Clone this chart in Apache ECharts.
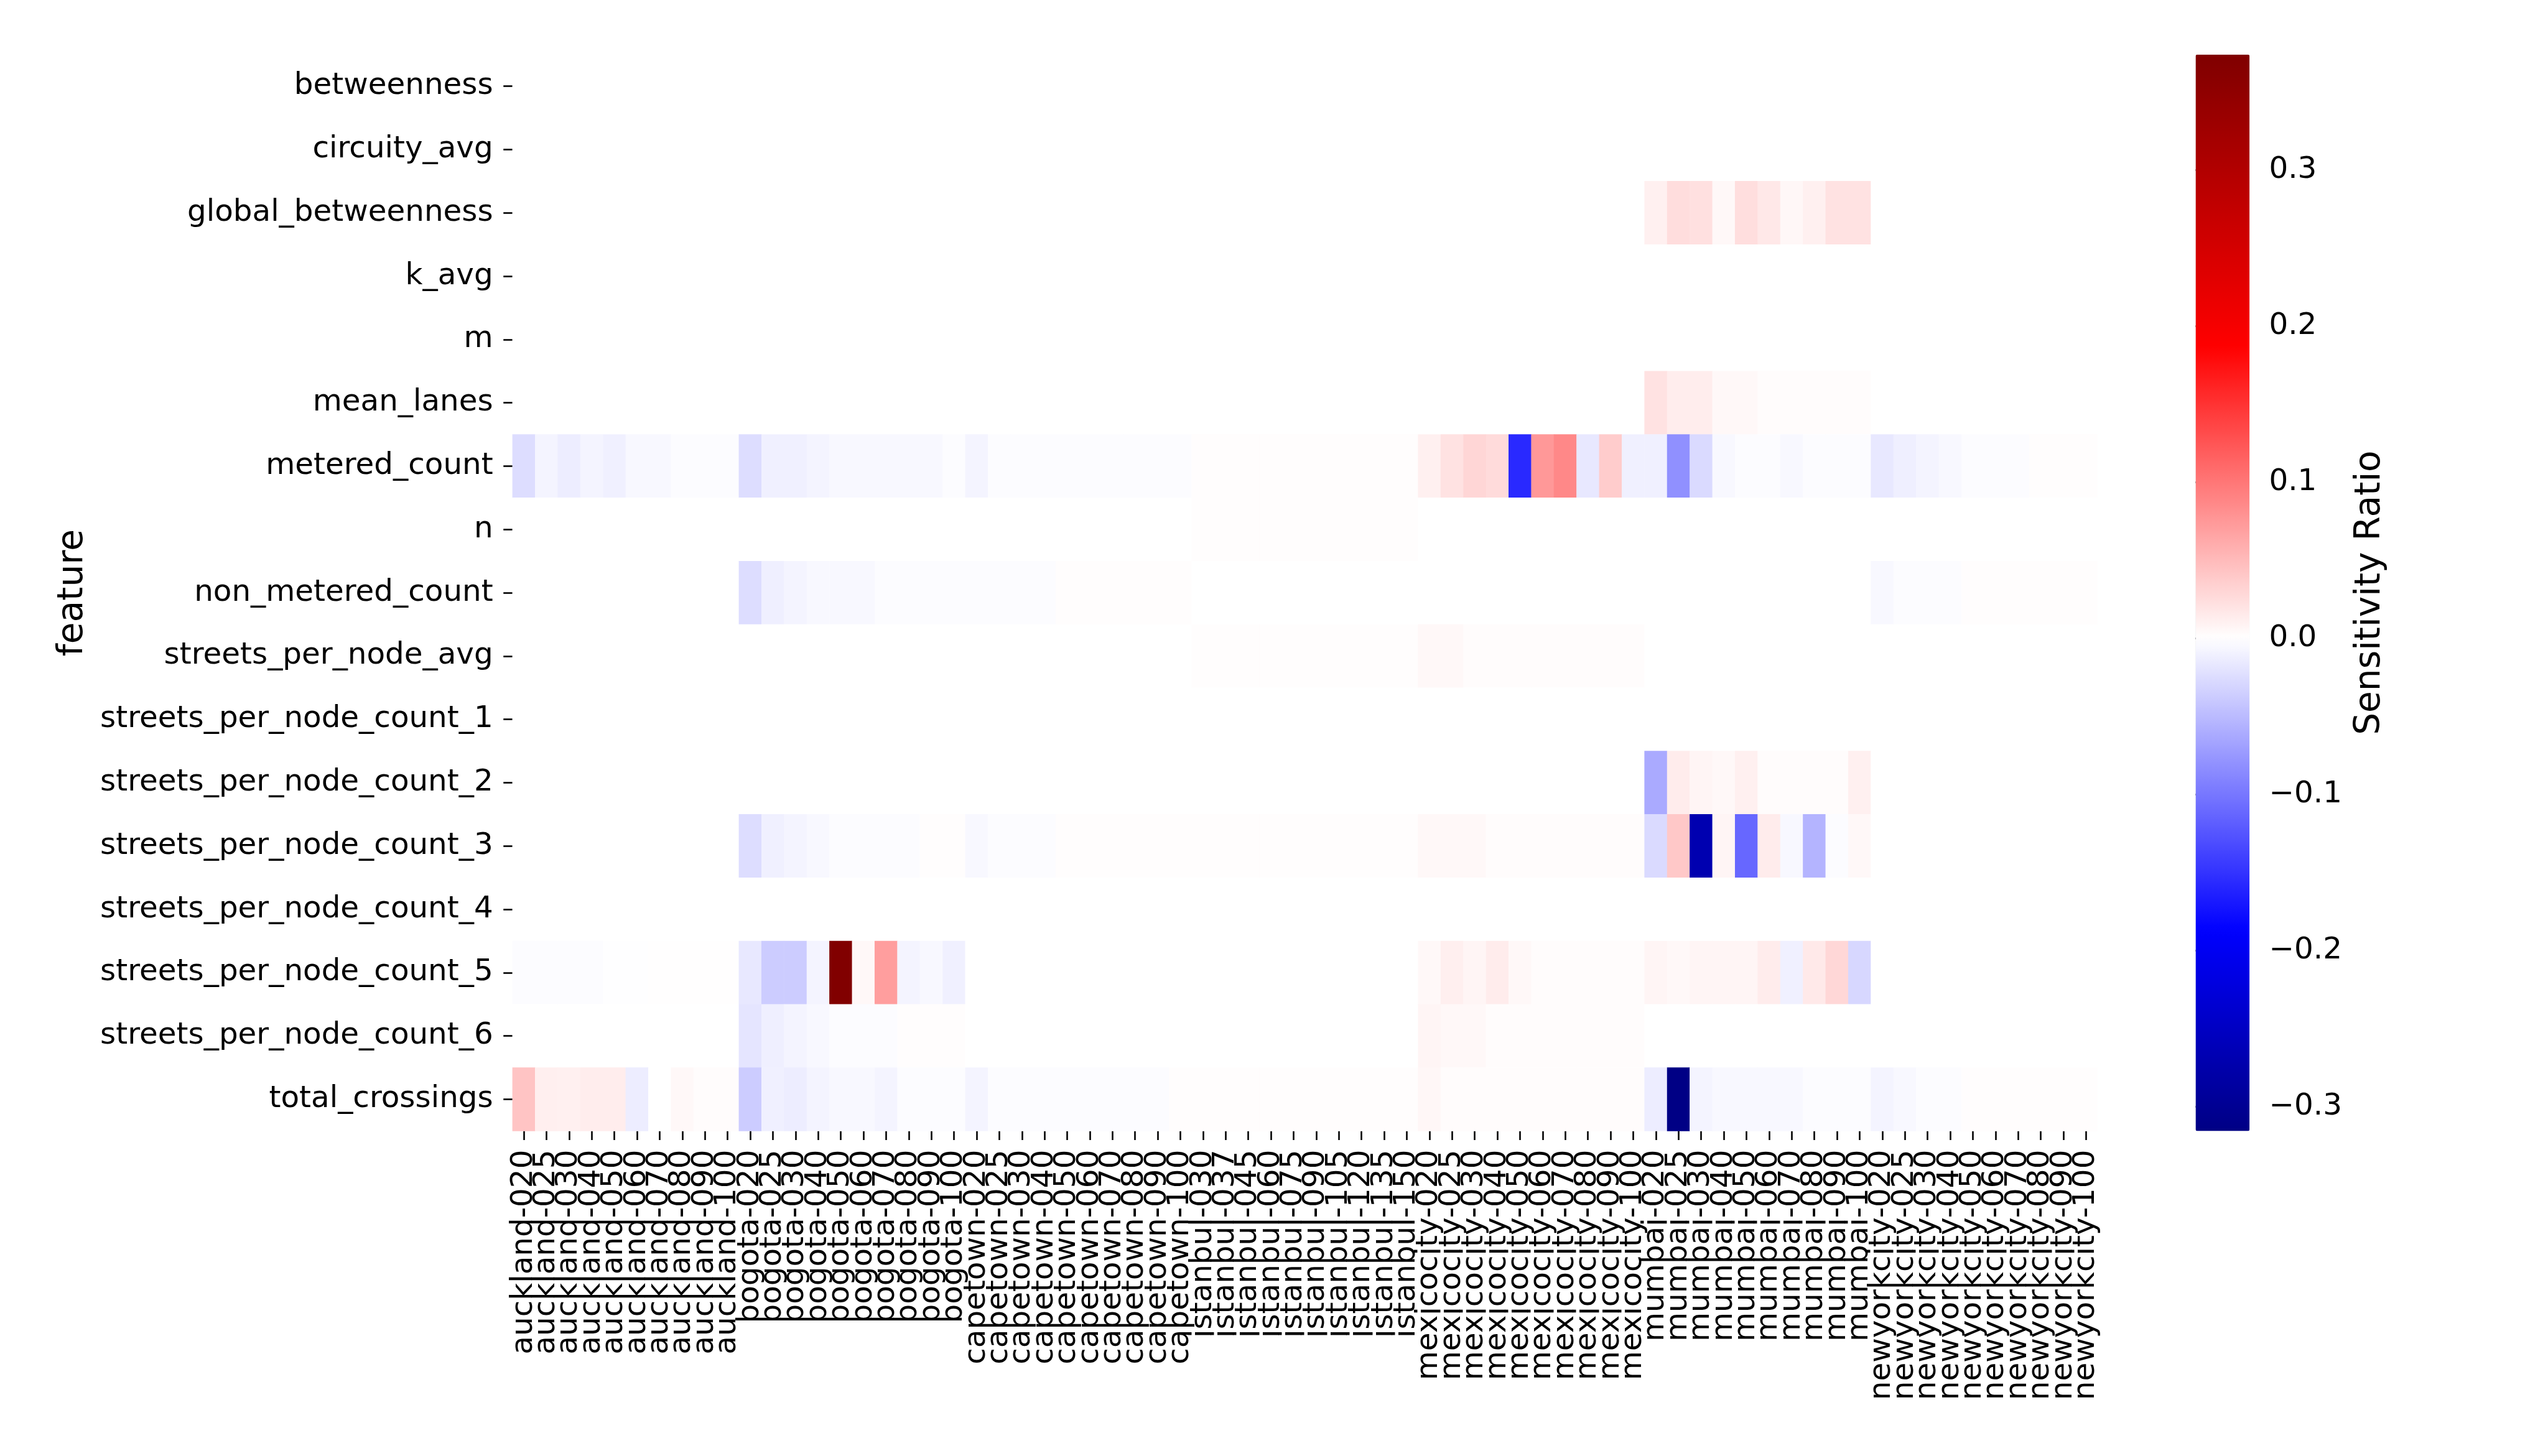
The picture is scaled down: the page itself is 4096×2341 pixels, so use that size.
<!DOCTYPE html>
<html>
<head>
<meta charset="utf-8">
<script src="https://cdn.jsdelivr.net/npm/echarts@6/dist/echarts.min.js"></script>
<style>
html,body{margin:0;padding:0;background:#fff;}
#chart{width:4096px;height:2341px;}
</style>
</head>
<body>
<div id="chart"></div>
<script>
// ---------- categories ----------
const cities = ['auckland','bogota','capetown','istanbul','mexicocity','mumbai','newyorkcity'];
const citySuffixes = {
  auckland:   ['020','025','030','040','050','060','070','080','090','100'],
  bogota:     ['020','025','030','040','050','060','070','080','090','100'],
  capetown:   ['020','025','030','040','050','060','070','080','090','100'],
  istanbul:   ['030','037','045','060','075','090','105','120','135','150'],
  mexicocity: ['020','025','030','040','050','060','070','080','090','100'],
  mumbai:     ['020','025','030','040','050','060','070','080','090','100'],
  newyorkcity:['020','025','030','040','050','060','070','080','090','100']
};
const columns = [];
cities.forEach(c => citySuffixes[c].forEach(s => columns.push(c + '-' + s)));

const features = ['betweenness','circuity_avg','global_betweenness','k_avg','m','mean_lanes',
  'metered_count','n','non_metered_count','streets_per_node_avg','streets_per_node_count_1',
  'streets_per_node_count_2','streets_per_node_count_3','streets_per_node_count_4',
  'streets_per_node_count_5','streets_per_node_count_6','total_crossings'];

// ---------- values (one row per feature; 70 columns, cities in order above) ----------
const z10 = [0,0,0,0,0,0,0,0,0,0];
const p10 = [0.0015,0.0015,0.0015,0.0015,0.0015,0.0015,0.0015,0.0015,0.0015,0.0015];

const betweenness = [...z10,...z10,...z10,...z10,...z10,...z10,...z10];
const circuity_avg = [...z10,...z10,...z10,...z10,...z10,...z10,...z10];
const global_betweenness = [...z10,...z10,...z10,...z10,...z10,
  0.011,0.025,0.023,0.005,0.024,0.017,0.006,0.011,0.021,0.021, ...z10];
const k_avg = [...z10,...z10,...z10,...z10,...z10,...z10,...z10];
const m_row = [...z10,...z10,...z10,...z10,...z10,...z10,...z10];
const mean_lanes = [...z10,...z10,...z10,...z10,...z10,
  0.021,0.013,0.013,0.005,0.005,0.002,0.002,0.002,0.002,0.002, ...z10];
const metered_count = [
  -0.025,-0.008,-0.013,-0.008,-0.011,-0.005,-0.005,-0.002,-0.002,-0.002,
  -0.025,-0.011,-0.011,-0.008,-0.005,-0.005,-0.005,-0.005,-0.005,-0.002,
  -0.008,-0.002,-0.002,-0.002,-0.002,-0.002,-0.002,-0.002,-0.002,-0.002,
  ...p10,
  0.011,0.021,0.030,0.026,-0.157,0.075,0.087,-0.017,0.037,-0.011,
  -0.011,-0.081,-0.027,-0.005,-0.002,-0.002,-0.005,-0.002,-0.002,-0.002,
  -0.017,-0.012,-0.008,-0.005,-0.002,-0.002,-0.002,0.0015,0.0015,0.0015];
const n_row = [...z10,...z10,...z10,...p10,...z10,...z10,...z10];
const non_metered_count = [...z10,
  -0.025,-0.012,-0.008,-0.005,-0.005,-0.005,-0.002,-0.002,-0.002,-0.002,
  -0.002,-0.002,-0.002,-0.002,0.0015,0.0015,0.0015,0.0015,0.0015,0.0015,
  ...z10,...z10,...z10,
  -0.005,-0.002,-0.002,-0.002,0.0015,0.0015,0.0015,0.0015,0.0015,0.0015];
const streets_per_node_avg = [...z10,...z10,...z10,...p10,
  0.005,0.005,0.002,0.002,0.002,0.002,0.002,0.002,0.002,0.002, ...z10,...z10];
const spn_count_1 = [...z10,...z10,...z10,...z10,...z10,...z10,...z10];
const spn_count_2 = [...z10,...z10,...z10,...z10,...z10,
  -0.062,0.014,0.007,0.005,0.011,0.002,0.002,0.002,0.002,0.011, ...z10];
const spn_count_3 = [...z10,
  -0.025,-0.011,-0.008,-0.005,-0.002,-0.002,-0.002,-0.002,0.0015,0.0015,
  -0.005,-0.002,-0.002,-0.002,0.0015,0.0015,0.0015,0.0015,0.0015,0.0015,
  ...p10,
  0.005,0.005,0.005,0.002,0.002,0.002,0.002,0.002,0.002,0.002,
  -0.027,0.040,-0.270,0.007,-0.112,0.014,-0.005,-0.055,-0.002,0.005,
  ...z10];
const spn_count_4 = [...z10,...z10,...z10,...z10,...z10,...z10,...z10];
const spn_count_5 = [
  -0.002,-0.002,-0.002,-0.002,-0.001,-0.001,0.001,0.001,0.001,0.001,
  -0.017,-0.037,-0.037,-0.008,0.373,0.005,0.071,-0.008,-0.005,-0.011,
  ...z10,...z10,
  0.005,0.012,0.007,0.014,0.005,0.002,0.002,0.002,0.002,0.002,
  0.007,0.005,0.007,0.007,0.007,0.014,-0.011,0.016,0.029,-0.029,
  ...z10];
const spn_count_6 = [...z10,
  -0.019,-0.012,-0.008,-0.005,-0.002,-0.002,-0.002,0.0015,0.0015,0.0015,
  ...z10,...z10,
  0.007,0.005,0.005,0.002,0.002,0.002,0.002,0.002,0.002,0.002,
  ...z10,...z10];
const total_crossings = [
  0.043,0.012,0.011,0.013,0.013,-0.013,0.000,0.005,0.002,0.002,
  -0.037,-0.011,-0.013,-0.008,-0.005,-0.005,-0.008,-0.002,-0.002,-0.002,
  -0.008,-0.002,-0.002,-0.002,-0.002,-0.002,-0.002,-0.002,-0.002,0.0015,
  ...p10,
  0.006,0.002,0.002,0.002,0.002,0.002,0.002,0.002,0.002,0.002,
  -0.013,-0.315,-0.008,-0.005,-0.005,-0.005,-0.005,-0.002,-0.002,-0.002,
  -0.008,-0.005,-0.002,-0.002,0.0015,0.0015,0.0015,0.0015,0.0015,0.0015];

const rows = [betweenness, circuity_avg, global_betweenness, k_avg, m_row, mean_lanes,
  metered_count, n_row, non_metered_count, streets_per_node_avg, spn_count_1,
  spn_count_2, spn_count_3, spn_count_4, spn_count_5, spn_count_6, total_crossings];

// colour scale range and colourbar ticks
const vMin = -0.3156;
const vMax = 0.374;
const cbarTicks = [-0.3,-0.2,-0.1,0.0,0.1,0.2,0.3];

// ---------- build heatmap data ----------
const heatData = [];
rows.forEach((r, yi) => r.forEach((v, xi) => heatData.push([xi, yi, v])));

// seismic colormap centred on 0 (seaborn-style)
function seismic(t) {
  const stops = [[0,0,0.3],[0,0,1],[1,1,1],[1,0,0],[0.5,0,0]];
  t = Math.max(0, Math.min(1, t));
  const p = t * 4, i = Math.min(3, Math.floor(p)), f = p - i;
  const a = stops[i], b = stops[i+1];
  const c = a.map((x, k) => Math.round(255 * (x + (b[k] - x) * f)));
  return 'rgb(' + c.join(',') + ')';
}
// evenly spaced stops with 0 falling exactly on a stop (pure white at 0)
const vRange = Math.max(Math.abs(vMin), Math.abs(vMax));
const nNeg = 54;
const step = -vMin / nNeg;
const nTot = Math.round((vMax - vMin) / step);
const colorStops = [];
for (let i = 0; i <= nTot; i++) {
  const v = vMin + step * i;
  colorStops.push(seismic((v + vRange) / (2 * vRange)));
}
const vTop = vMin + step * nTot;

// ---------- layout (reference px * 0.975) ----------
const S = 0.975;
const gridLeft = 845 * S, gridRight = 3458 * S, gridTop = 90 * S, gridBottom = 1865 * S;
const cbLeft = 3620 * S, cbWidth = 89 * S;
const tickFont = 49.6 * S, labelFont = 58 * S;
const font = 'DejaVu Sans';

const chart = echarts.init(document.getElementById('chart'), null, {renderer: 'canvas'});
chart.setOption({
  animation: false,
  backgroundColor: '#ffffff',
  textStyle: {fontFamily: font},
  grid: [
    {left: gridLeft, top: gridTop, width: gridRight - gridLeft, height: gridBottom - gridTop, containLabel: false},
    {left: cbLeft, top: gridTop, width: cbWidth, height: gridBottom - gridTop, containLabel: false}
  ],
  xAxis: [
    {
      type: 'category', data: columns, gridIndex: 0,
      axisLine: {show: false},
      axisTick: {show: true, alignWithLabel: true, length: 15 * S, lineStyle: {color: '#000', width: 2.6}},
      axisLabel: {interval: 0, rotate: 90, margin: 31 * S, fontSize: tickFont, color: '#000', fontFamily: font, hideOverlap: false},
      splitLine: {show: false}
    },
    {type: 'value', gridIndex: 1, show: false, min: 0, max: 1}
  ],
  yAxis: [
    {
      type: 'category', data: features, gridIndex: 0, inverse: true,
      axisLine: {show: false},
      axisTick: {show: true, alignWithLabel: true, length: 15 * S, lineStyle: {color: '#000', width: 2.6}},
      axisLabel: {interval: 0, margin: 32 * S, fontSize: tickFont, color: '#000', fontFamily: font},
      splitLine: {show: false},
      name: 'feature', nameLocation: 'middle', nameGap: 678,
      nameTextStyle: {fontSize: labelFont, color: '#000', fontFamily: font}
    },
    {
      type: 'value', gridIndex: 1, position: 'right', min: vMin, max: vTop,
      axisLine: {show: false},
      splitLine: {show: false},
      axisTick: {show: true, length: 15 * S, customValues: cbarTicks, lineStyle: {color: '#000', width: 2.6}},
      axisLabel: {
        show: true, customValues: cbarTicks, margin: 32 * S, fontSize: tickFont, color: '#000', fontFamily: font,
        formatter: v => (v < 0 ? '\u2212' : '') + Math.abs(v).toFixed(1)
      },
      name: 'Sensitivity Ratio', nameLocation: 'middle', nameGap: 166,
      nameTextStyle: {fontSize: labelFont, color: '#000', fontFamily: font}
    }
  ],
  visualMap: {
    type: 'continuous', seriesIndex: 0, min: vMin, max: vTop,
    orient: 'vertical', left: cbLeft, top: gridTop,
    itemWidth: cbWidth, itemHeight: gridBottom - gridTop,
    calculable: false, hoverLink: false, realtime: false,
    padding: 0, text: null, showLabel: false,
    inRange: {color: colorStops}
  },
  series: [{
    type: 'heatmap', xAxisIndex: 0, yAxisIndex: 0,
    data: heatData,
    emphasis: {disabled: true},
    progressive: 0
  }]
});
</script>
</body>
</html>
